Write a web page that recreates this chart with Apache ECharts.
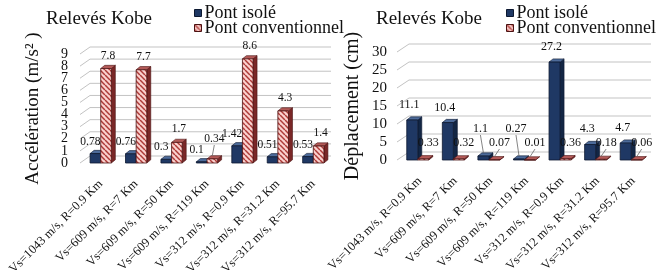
<!DOCTYPE html>
<html>
<head>
<meta charset="utf-8">
<script src="https://cdn.jsdelivr.net/npm/echarts@6/dist/echarts.min.js"></script>
<style>
  html, body { margin: 0; padding: 0; background: #fff; }
  #chart { width: 660px; height: 270px; }
</style>
</head>
<body>
<div id="chart"></div>
<script>
const categories = [
  'Vs=1043 m/s, R=0.9 Km',
  'Vs=609 m/s, R=7 Km',
  'Vs=609 m/s, R=50 Km',
  'Vs=609 m/s, R=119 Km',
  'Vs=312 m/s, R=0.9 Km',
  'Vs=312 m/s, R=31.2 Km',
  'Vs=312 m/s, R=95.7 Km'
];
const accIsole = [0.78, 0.76, 0.3, 0.1, 1.42, 0.51, 0.53];
const accConv = [7.8, 7.7, 1.7, 0.34, 8.6, 4.3, 1.4];
const depIsole = [11.1, 10.4, 1.1, 0.27, 27.2, 4.3, 4.7];
const depConv = [0.33, 0.32, 0.07, 0.01, 0.36, 0.18, 0.06];
const accTicks = [0, 1, 2, 3, 4, 5, 6, 7, 8, 9];
const depTicks = [0, 5, 10, 15, 20, 25, 30];

const FONT = '"Liberation Serif", "DejaVu Serif", serif';

// pink with dark red "\" stripes
function hatch(size) {
  const c = document.createElement('canvas');
  c.width = c.height = size;
  const g = c.getContext('2d');
  g.fillStyle = '#fad0cd';
  g.fillRect(0, 0, size, size);
  g.strokeStyle = '#ad3a38';
  g.lineWidth = size * 0.3;
  for (const k of [-size, 0, size]) {
    g.beginPath();
    g.moveTo(k, 0);
    g.lineTo(k + size, size);
    g.stroke();
  }
  return c;
}
const pinkFill = { image: hatch(5), repeat: 'repeat' };

const blue = { front: '#1f3864', top: '#4d6b9a', side: '#132644', stroke: '#0c1830' };
const pink = { front: pinkFill, top: '#b35a58', side: '#7a2727', stroke: '#4a1212' };

const leftCfg = {
  depth: 4, ratio: 0.3, shift: 0, fontSize: 11.5,
  blueDx: -5, blueGap: 12, blueMin: 12,
  pinkDx: 2, pinkGap: 13, pinkMin: 24,
  wallInset: 3, wallDx: 10, wallDy: 7,
  tickSize: 14, tickMargin: 15
};
const rightCfg = {
  depth: 4, ratio: 0.31, shift: -2, fontSize: 12,
  blueDx: -3, blueGap: 15, blueMin: 31,
  pinkDx: 5, pinkGap: 15, pinkMin: 17,
  wallInset: 5, wallDx: 12, wallDy: 8,
  tickSize: 15, tickMargin: 15
};

function barItem(side, cfg) {
  const col = side === 0 ? blue : pink;
  return function (params, api) {
    const i = api.value(0);
    const v = api.value(1);
    const top = api.coord([i, v]);
    const base = api.coord([i, 0]);
    const band = api.size([1, 0])[0];
    const bw = band * cfg.ratio;
    const d = cfg.depth;
    const dy = d * 0.8;
    const x = (side === 0 ? top[0] - bw : top[0]) + cfg.shift;
    const yT = top[1];
    const yB = base[1];
    const children = [
      {
        type: 'polygon',
        shape: { points: [[x + bw, yT], [x + bw + d, yT - dy], [x + bw + d, yB - dy], [x + bw, yB]] },
        style: { fill: col.side, stroke: col.stroke, lineWidth: 0.6 }
      },
      {
        type: 'polygon',
        shape: { points: [[x, yT], [x + d, yT - dy], [x + bw + d, yT - dy], [x + bw, yT]] },
        style: { fill: col.top, stroke: col.stroke, lineWidth: 0.6 }
      },
      {
        type: 'rect',
        shape: { x: x, y: yT, width: bw, height: yB - yT },
        style: { fill: col.front, stroke: col.stroke, lineWidth: 0.8 }
      }
    ];

    const gap = side === 0 ? cfg.blueGap : cfg.pinkGap;
    const minUp = side === 0 ? cfg.blueMin : cfg.pinkMin;
    const lx = x + bw / 2 + (side === 0 ? cfg.blueDx : cfg.pinkDx);
    const ly = Math.min(yT - gap, yB - minUp);
    if (yT - (ly + 6) > 10) {
      children.push({
        type: 'line',
        shape: { x1: lx, y1: ly + 6, x2: x + bw / 2, y2: yT - dy },
        style: { stroke: '#666', lineWidth: 0.8 }
      });
    }
    children.push({
      type: 'text',
      x: lx,
      y: ly,
      style: {
        text: String(v),
        fontFamily: FONT,
        fontSize: cfg.fontSize,
        fill: '#111',
        align: 'center',
        verticalAlign: 'middle',
        textAlign: 'center',
        textVerticalAlign: 'middle'
      }
    });
    return { type: 'group', children: children };
  };
}

// back-wall gridline plus its tick label
function wallItem(cfg) {
  return function (params, api) {
    const t = api.value(1);
    const y = api.coord([0, t])[1];
    const cs = params.coordSys;
    const x0 = cs.x - cfg.wallInset;
    return {
      type: 'group',
      children: [
        {
          type: 'polyline',
          shape: { points: [[x0, y], [x0 + cfg.wallDx, y - cfg.wallDy], [cs.x + cs.width, y - cfg.wallDy]] },
          style: { stroke: '#c3c3c3', lineWidth: 1, fill: null }
        },
        {
          type: 'text',
          x: cs.x - cfg.tickMargin,
          y: y,
          style: {
            text: String(t),
            fontFamily: FONT,
            fontSize: cfg.tickSize,
            fill: '#111',
            align: 'right',
            verticalAlign: 'middle',
            textAlign: 'right',
            textVerticalAlign: 'middle'
          }
        }
      ]
    };
  };
}

const pairs = (arr) => arr.map((v, i) => [i, v]);
const ticks = (arr) => arr.map((t) => [0, t]);

const legendItems = [
  { name: 'Pont isolé', icon: 'rect', itemStyle: { color: '#1f3864', borderColor: '#0c1830', borderWidth: 1 } },
  { name: 'Pont conventionnel', icon: 'rect', itemStyle: { color: pinkFill, borderColor: '#4a1212', borderWidth: 1 } }
];
const legendBase = {
  orient: 'vertical',
  top: 4,
  padding: 0,
  itemWidth: 7,
  itemHeight: 7,
  itemGap: -3,
  data: legendItems,
  textStyle: { fontFamily: FONT, fontSize: 18, color: '#111', padding: [0, 0, 0, -2] }
};

const xAxisBase = {
  type: 'category',
  data: categories,
  axisLine: { show: false },
  axisTick: { show: false },
  axisLabel: { rotate: 45, margin: 19, interval: 0, fontFamily: FONT, fontSize: 12.5, color: '#111' }
};
const yAxisBase = {
  type: 'value',
  min: 0,
  nameLocation: 'middle',
  nameRotate: 90,
  axisLine: { show: false },
  axisTick: { show: false },
  splitLine: { show: false },
  axisLabel: { show: false }
};
const titleStyle = { fontFamily: FONT, fontSize: 19, fontWeight: 'normal', color: '#111' };

const chart = echarts.init(document.getElementById('chart'), null, { renderer: 'canvas' });
chart.setOption({
  animation: false,
  backgroundColor: '#fff',
  title: [
    { text: 'Relevés Kobe', left: 41, top: 5, textStyle: titleStyle },
    { text: 'Relevés Kobe', left: 371, top: 5, textStyle: titleStyle }
  ],
  legend: [
    Object.assign({}, legendBase, { left: 194 }),
    Object.assign({}, legendBase, { left: 506 })
  ],
  grid: [
    { left: 83, width: 248, top: 54, bottom: 107, outerBoundsMode: 'none', containLabel: false },
    { left: 402, width: 249, top: 52, bottom: 110, outerBoundsMode: 'none', containLabel: false }
  ],
  xAxis: [
    Object.assign({}, xAxisBase, { gridIndex: 0 }),
    Object.assign({}, xAxisBase, { gridIndex: 1 })
  ],
  yAxis: [
    Object.assign({}, yAxisBase, {
      gridIndex: 0, max: 9, interval: 1,
      name: 'Accélération (m/s² )', nameGap: 40,
      nameTextStyle: { fontFamily: FONT, fontSize: 19, color: '#111' }
    }),
    Object.assign({}, yAxisBase, {
      gridIndex: 1, max: 30, interval: 5,
      name: 'Déplacement (cm)', nameGap: 39,
      nameTextStyle: { fontFamily: FONT, fontSize: 20, color: '#111' }
    })
  ],
  series: [
    { type: 'custom', name: 'wall-acc', xAxisIndex: 0, yAxisIndex: 0, z: 1, silent: true,
      renderItem: wallItem(leftCfg), data: ticks(accTicks), encode: { x: 0, y: 1 } },
    { type: 'custom', name: 'wall-dep', xAxisIndex: 1, yAxisIndex: 1, z: 1, silent: true,
      renderItem: wallItem(rightCfg), data: ticks(depTicks), encode: { x: 0, y: 1 } },
    { type: 'custom', name: 'Pont isolé', xAxisIndex: 0, yAxisIndex: 0, z: 2,
      itemStyle: { color: '#1f3864' },
      renderItem: barItem(0, leftCfg), data: pairs(accIsole), encode: { x: 0, y: 1 } },
    { type: 'custom', name: 'Pont conventionnel', xAxisIndex: 0, yAxisIndex: 0, z: 3,
      itemStyle: { color: pinkFill },
      renderItem: barItem(1, leftCfg), data: pairs(accConv), encode: { x: 0, y: 1 } },
    { type: 'custom', name: 'Pont isolé', xAxisIndex: 1, yAxisIndex: 1, z: 2,
      itemStyle: { color: '#1f3864' },
      renderItem: barItem(0, rightCfg), data: pairs(depIsole), encode: { x: 0, y: 1 } },
    { type: 'custom', name: 'Pont conventionnel', xAxisIndex: 1, yAxisIndex: 1, z: 3,
      itemStyle: { color: pinkFill },
      renderItem: barItem(1, rightCfg), data: pairs(depConv), encode: { x: 0, y: 1 } }
  ]
});
</script>
</body>
</html>
